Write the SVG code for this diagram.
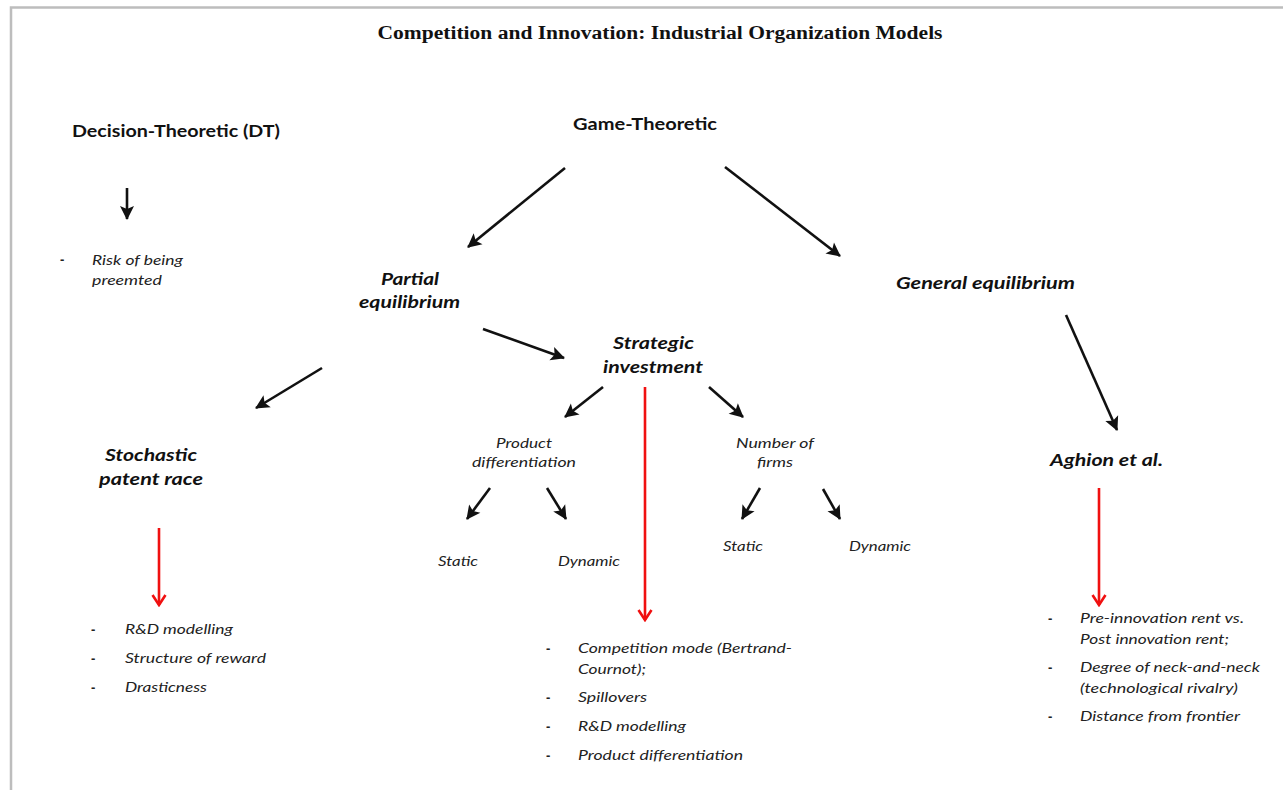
<svg xmlns="http://www.w3.org/2000/svg" width="1283" height="790" viewBox="0 0 1283 790">
<style>
.title{font-family:"Liberation Serif","Times New Roman",serif;font-weight:bold;font-size:18px;fill:#111}
.h{font-family:Lato,"Liberation Sans",sans-serif;font-weight:bold;font-size:17px;fill:#111}
.hi{font-family:Lato,"Liberation Sans",sans-serif;font-weight:bold;font-style:italic;font-size:17px;fill:#111}
.s{font-family:Lato,"Liberation Sans",sans-serif;font-style:italic;font-size:14px;fill:#222}
.d{font-family:"Liberation Sans",sans-serif;font-weight:bold;font-size:13px;fill:#222}
.k{stroke:#111;stroke-width:2.6;fill:none}
.r{stroke:#f01010;stroke-width:2.6;fill:none}
.frame{stroke:#bdbdbd;stroke-width:2.5;fill:none}
</style>
<defs>
<marker id="ah" markerUnits="userSpaceOnUse" markerWidth="16" markerHeight="16" viewBox="0 0 16 16" refX="14" refY="8" orient="auto">
<path d="M1,1 L15,8 L1,15 L4,8 z" fill="#111"/>
</marker>
<marker id="ahr" markerUnits="userSpaceOnUse" markerWidth="16" markerHeight="16" viewBox="0 0 16 16" refX="14" refY="8" orient="auto">
<path d="M4,1.5 L14,8 L4,14.5" fill="none" stroke="#f01010" stroke-width="2.6"/>
</marker>
</defs>
<rect width="1283" height="790" fill="#fff"/>
<path class="frame" d="M11,790 L11,7.5 L1283,7.5"/>

<text class="title" x="660" y="39" text-anchor="middle" textLength="565" lengthAdjust="spacingAndGlyphs">Competition and Innovation: Industrial Organization Models</text>

<g id="node-dt">
<text class="h" x="72" y="137" textLength="208" lengthAdjust="spacingAndGlyphs">Decision-Theoretic (DT)</text>
</g>
<g id="node-dt-items">
<text class="d" x="60" y="264">-</text>
<text class="s" x="92" y="265" textLength="91" lengthAdjust="spacingAndGlyphs">Risk of being</text>
<text class="s" x="92" y="285" textLength="70" lengthAdjust="spacingAndGlyphs">preemted</text>
</g>
<g id="node-game">
<text class="h" x="573" y="130" textLength="144" lengthAdjust="spacingAndGlyphs">Game-Theoretic</text>
</g>
<g id="node-partial">
<text class="hi" x="381" y="285" textLength="58" lengthAdjust="spacingAndGlyphs">Partial</text>
<text class="hi" x="359" y="308" textLength="101" lengthAdjust="spacingAndGlyphs">equilibrium</text>
</g>
<g id="node-general">
<text class="hi" x="896" y="289" textLength="179" lengthAdjust="spacingAndGlyphs">General equilibrium</text>
</g>
<g id="node-strategic">
<text class="hi" x="613" y="349" textLength="81" lengthAdjust="spacingAndGlyphs">Strategic</text>
<text class="hi" x="603" y="373" textLength="100" lengthAdjust="spacingAndGlyphs">investment</text>
</g>
<g id="node-stochastic">
<text class="hi" x="105" y="461" textLength="92" lengthAdjust="spacingAndGlyphs">Stochastic</text>
<text class="hi" x="99" y="485" textLength="104" lengthAdjust="spacingAndGlyphs">patent race</text>
</g>
<g id="node-stochastic-items">
<text class="d" x="91" y="634">-</text>
<text class="s" x="125" y="634" textLength="108" lengthAdjust="spacingAndGlyphs">R&amp;D modelling</text>
<text class="d" x="91" y="663">-</text>
<text class="s" x="125" y="663" textLength="141" lengthAdjust="spacingAndGlyphs">Structure of reward</text>
<text class="d" x="91" y="692">-</text>
<text class="s" x="125" y="692" textLength="82" lengthAdjust="spacingAndGlyphs">Drasticness</text>
</g>
<g id="node-product">
<text class="s" x="496" y="448" textLength="56" lengthAdjust="spacingAndGlyphs">Product</text>
<text class="s" x="472" y="467" textLength="104" lengthAdjust="spacingAndGlyphs">differentiation</text>
</g>
<g id="node-number">
<text class="s" x="736" y="448" textLength="78" lengthAdjust="spacingAndGlyphs">Number of</text>
<text class="s" x="757" y="467" textLength="36" lengthAdjust="spacingAndGlyphs">firms</text>
</g>
<g id="node-pd-static"><text class="s" x="438" y="566" textLength="40" lengthAdjust="spacingAndGlyphs">Static</text></g>
<g id="node-pd-dynamic"><text class="s" x="558" y="566" textLength="62" lengthAdjust="spacingAndGlyphs">Dynamic</text></g>
<g id="node-nf-static"><text class="s" x="723" y="551" textLength="40" lengthAdjust="spacingAndGlyphs">Static</text></g>
<g id="node-nf-dynamic"><text class="s" x="849" y="551" textLength="62" lengthAdjust="spacingAndGlyphs">Dynamic</text></g>
<g id="node-strategic-items">
<text class="d" x="546" y="653">-</text>
<text class="s" x="578" y="653" textLength="214" lengthAdjust="spacingAndGlyphs">Competition mode (Bertrand-</text>
<text class="s" x="578" y="674" textLength="68" lengthAdjust="spacingAndGlyphs">Cournot);</text>
<text class="d" x="546" y="702">-</text>
<text class="s" x="578" y="702" textLength="69" lengthAdjust="spacingAndGlyphs">Spillovers</text>
<text class="d" x="546" y="731">-</text>
<text class="s" x="578" y="731" textLength="108" lengthAdjust="spacingAndGlyphs">R&amp;D modelling</text>
<text class="d" x="546" y="760">-</text>
<text class="s" x="578" y="760" textLength="165" lengthAdjust="spacingAndGlyphs">Product differentiation</text>
</g>
<g id="node-aghion">
<text class="hi" x="1050" y="466" textLength="113" lengthAdjust="spacingAndGlyphs">Aghion et al.</text>
</g>
<g id="node-aghion-items">
<text class="d" x="1048" y="623">-</text>
<text class="s" x="1080" y="623" textLength="164" lengthAdjust="spacingAndGlyphs">Pre-innovation rent vs.</text>
<text class="s" x="1080" y="644" textLength="149" lengthAdjust="spacingAndGlyphs">Post innovation rent;</text>
<text class="d" x="1048" y="672">-</text>
<text class="s" x="1080" y="672" textLength="180" lengthAdjust="spacingAndGlyphs">Degree of neck-and-neck</text>
<text class="s" x="1080" y="693" textLength="158" lengthAdjust="spacingAndGlyphs">(technological rivalry)</text>
<text class="d" x="1048" y="721">-</text>
<text class="s" x="1080" y="721" textLength="160" lengthAdjust="spacingAndGlyphs">Distance from frontier</text>
</g>

<g id="connectors">
<line class="k" x1="127" y1="188" x2="127" y2="219" marker-end="url(#ah)"/>
<line class="k" x1="565" y1="168" x2="468" y2="247" marker-end="url(#ah)"/>
<line class="k" x1="725" y1="167" x2="840" y2="256" marker-end="url(#ah)"/>
<line class="k" x1="322" y1="368" x2="256" y2="408" marker-end="url(#ah)"/>
<line class="k" x1="483" y1="329" x2="564" y2="358" marker-end="url(#ah)"/>
<line class="k" x1="1066" y1="315" x2="1117" y2="430" marker-end="url(#ah)"/>
<line class="k" x1="603" y1="387" x2="565" y2="417" marker-end="url(#ah)"/>
<line class="k" x1="709" y1="387" x2="743" y2="417" marker-end="url(#ah)"/>
<line class="k" x1="490" y1="488" x2="467" y2="519" marker-end="url(#ah)"/>
<line class="k" x1="547" y1="488" x2="566" y2="519" marker-end="url(#ah)"/>
<line class="k" x1="760" y1="488" x2="742" y2="519" marker-end="url(#ah)"/>
<line class="k" x1="823" y1="489" x2="840" y2="519" marker-end="url(#ah)"/>
<line class="r" x1="159" y1="528" x2="159" y2="605" marker-end="url(#ahr)"/>
<line class="r" x1="645" y1="387" x2="645" y2="620" marker-end="url(#ahr)"/>
<line class="r" x1="1099" y1="488" x2="1099" y2="605" marker-end="url(#ahr)"/>
</g>
</svg>
